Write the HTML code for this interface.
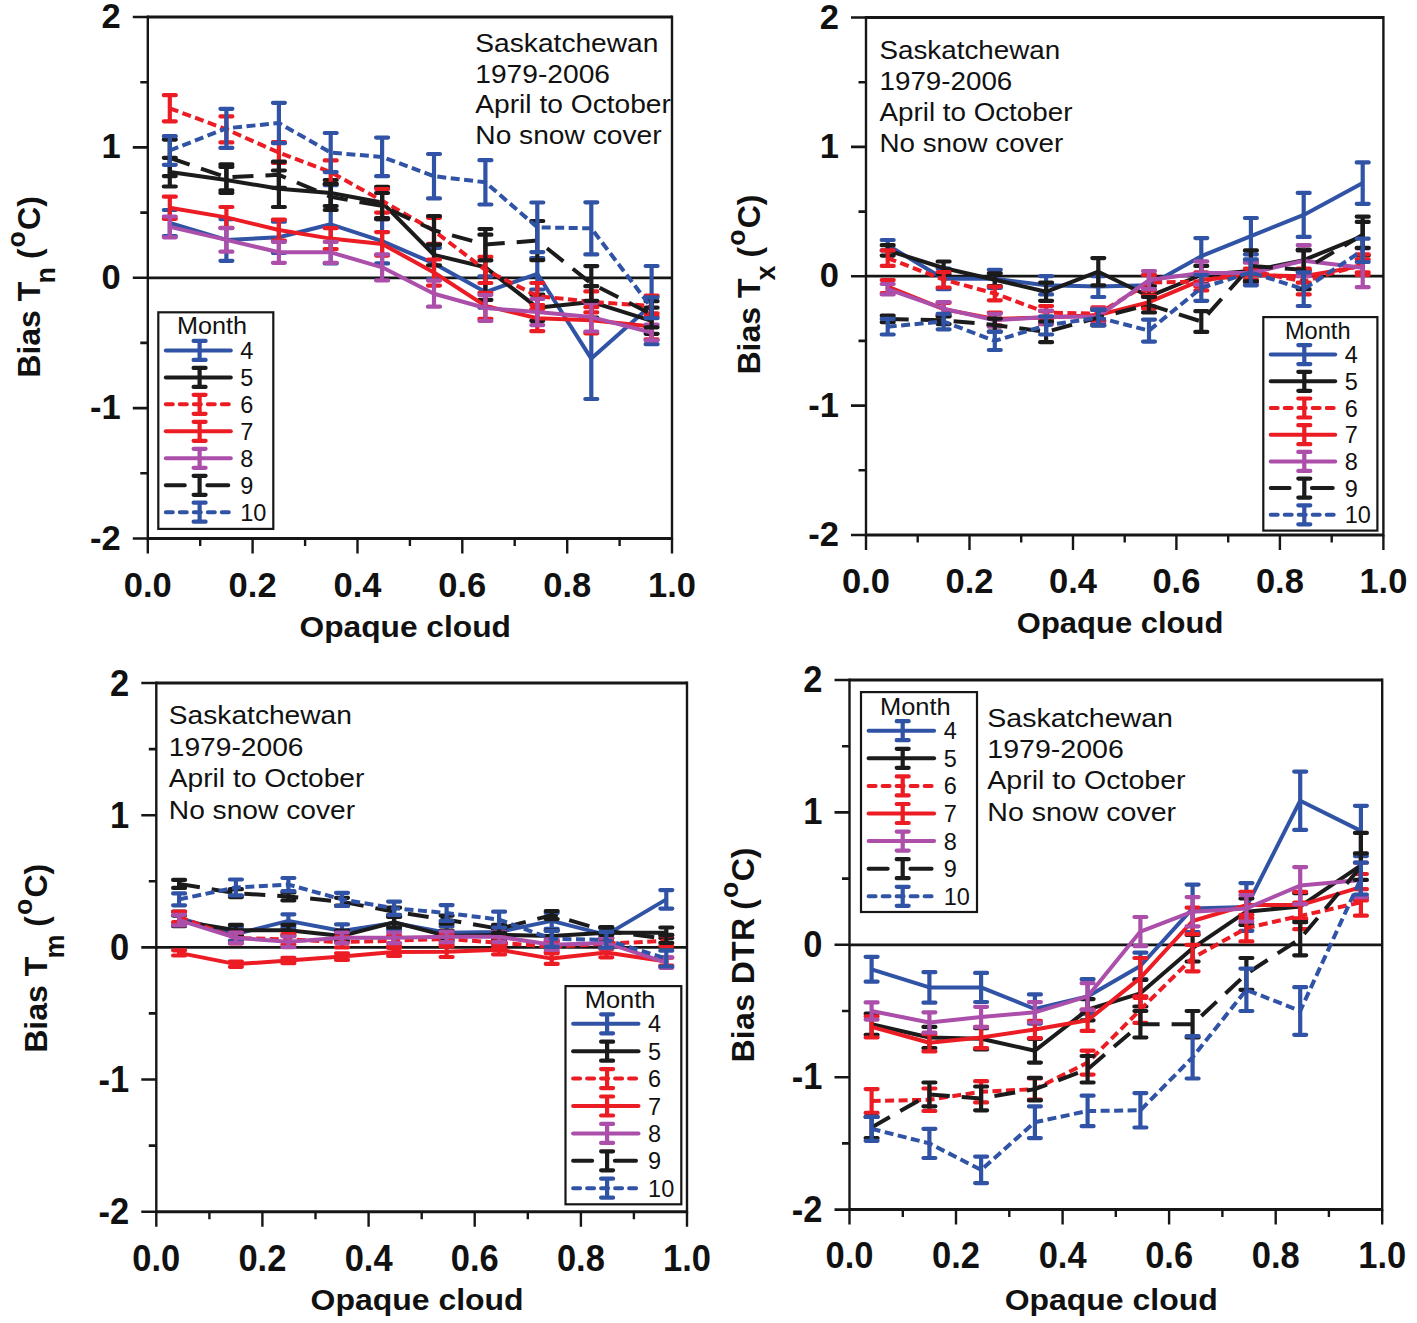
<!DOCTYPE html>
<html><head><meta charset="utf-8"><title>Bias vs opaque cloud</title>
<style>html,body{margin:0;padding:0;background:#fff;}svg{display:block;}</style></head>
<body><svg width="1417" height="1323" viewBox="0 0 1417 1323" font-family='"Liberation Sans", sans-serif' fill="#111">
<rect width="1417" height="1323" fill="#fff"/>
<path d="M147.8 17H672M147.8 538.5H672" stroke="#161616" stroke-width="3.0" fill="none"/>
<path d="M147.8 15.5V540M672 15.5V540" stroke="#161616" stroke-width="2.4" fill="none"/>
<path d="M132.8 17H147.8M132.8 147.4H147.8M132.8 277.8H147.8M132.8 408.1H147.8M132.8 538.5H147.8M140.3 82.2H147.8M140.3 212.6H147.8M140.3 342.9H147.8M140.3 473.3H147.8" stroke="#161616" stroke-width="2.6" fill="none"/>
<path d="M147.8 538.5V553.5M252.6 538.5V553.5M357.5 538.5V553.5M462.3 538.5V553.5M567.2 538.5V553.5M672 538.5V553.5M200.2 538.5V546M305.1 538.5V546M409.9 538.5V546M514.7 538.5V546M619.6 538.5V546" stroke="#161616" stroke-width="2.4" fill="none"/>
<path d="M147.8 277.8H672" stroke="#161616" stroke-width="2.8" fill="none"/>
<text transform="translate(120.8 28) scale(1 1.0)" text-anchor="end" font-size="34.5" font-weight="bold">2</text>
<text transform="translate(120.8 158.4) scale(1 1.0)" text-anchor="end" font-size="34.5" font-weight="bold">1</text>
<text transform="translate(120.8 288.8) scale(1 1.0)" text-anchor="end" font-size="34.5" font-weight="bold">0</text>
<text transform="translate(120.8 419.1) scale(1 1.0)" text-anchor="end" font-size="34.5" font-weight="bold">-1</text>
<text transform="translate(120.8 549.5) scale(1 1.0)" text-anchor="end" font-size="34.5" font-weight="bold">-2</text>
<text transform="translate(147.8 597) scale(1 1.0)" text-anchor="middle" font-size="34.5" font-weight="bold">0.0</text>
<text transform="translate(252.6 597) scale(1 1.0)" text-anchor="middle" font-size="34.5" font-weight="bold">0.2</text>
<text transform="translate(357.5 597) scale(1 1.0)" text-anchor="middle" font-size="34.5" font-weight="bold">0.4</text>
<text transform="translate(462.3 597) scale(1 1.0)" text-anchor="middle" font-size="34.5" font-weight="bold">0.6</text>
<text transform="translate(567.2 597) scale(1 1.0)" text-anchor="middle" font-size="34.5" font-weight="bold">0.8</text>
<text transform="translate(672 597) scale(1 1.0)" text-anchor="middle" font-size="34.5" font-weight="bold">1.0</text>
<text transform="translate(405.2 637) scale(1.057 1)" text-anchor="middle" font-size="30" font-weight="bold">Opaque cloud</text>
<text transform="translate(40 377.7) rotate(-90)" font-size="32" font-weight="bold">Bias T<tspan font-size="27" dx="-1.8" dy="14.5">n</tspan><tspan dx="-1" dy="-14.5"> (</tspan><tspan font-size="26.5" dx="1" dy="-15.5">o</tspan><tspan dx="1.3" dy="15.5">C)</tspan></text>
<text transform="translate(475.3 51.8) scale(1.1 1)" font-size="25.6">Saskatchewan</text>
<text transform="translate(475.3 82.6) scale(1.1 1)" font-size="25.6">1979-2006</text>
<text transform="translate(475.3 113.4) scale(1.1 1)" font-size="25.6">April to October</text>
<text transform="translate(475.3 144.2) scale(1.1 1)" font-size="25.6">No snow cover</text>
<polyline points="169.8,223 226.4,239.9 278.9,237.3 330.7,224.3 382.1,241.2 434,263.4 485.4,292.1 537.3,273.8 591.3,358.6 651.6,305.1" stroke="#3153a5" stroke-width="4.0" fill="none" stroke-linejoin="round"/>
<path d="M169.8 210V236M163.8 210H175.8M163.8 236H175.8M226.4 219.1V260.8M220.4 219.1H232.4M220.4 260.8H232.4M278.9 221.7V253M272.9 221.7H284.9M272.9 253H284.9M330.7 185.2V263.4M324.7 185.2H336.7M324.7 263.4H336.7M382.1 219.1V263.4M376.1 219.1H388.1M376.1 263.4H388.1M434 247.8V279.1M428 247.8H440M428 279.1H440M485.4 276.4V307.7M479.4 276.4H491.4M479.4 307.7H491.4M537.3 258.2V289.5M531.3 258.2H543.3M531.3 289.5H543.3M591.3 318.2V399M585.3 318.2H597.3M585.3 399H597.3M651.6 266V344.2M645.6 266H657.6M645.6 344.2H657.6" stroke="#3153a5" stroke-width="4.2" fill="none" stroke-linecap="round"/>
<polyline points="169.8,172.1 226.4,180 278.9,188.7 330.7,193 382.1,202.5 434,254.9 485.4,267.3 537.3,307.7 591.3,301.9 651.6,320.8" stroke="#1b1b1b" stroke-width="4.0" fill="none" stroke-linejoin="round"/>
<path d="M169.8 157.8V186.5M163.8 157.8H175.8M163.8 186.5H175.8M226.4 166.9V193M220.4 166.9H232.4M220.4 193H232.4M278.9 170.5V207M272.9 170.5H284.9M272.9 207H284.9M330.7 180V206M324.7 180H336.7M324.7 206H336.7M382.1 186.9V218.2M376.1 186.9H388.1M376.1 218.2H388.1M434 244.5V265.4M428 244.5H440M428 265.4H440M485.4 234.7V299.9M479.4 234.7H491.4M479.4 299.9H491.4M537.3 294.7V320.8M531.3 294.7H543.3M531.3 320.8H543.3M591.3 286.2V317.5M585.3 286.2H597.3M585.3 317.5H597.3M651.6 307.7V333.8M645.6 307.7H657.6M645.6 333.8H657.6" stroke="#1b1b1b" stroke-width="4.2" fill="none" stroke-linecap="round"/>
<polyline points="169.8,108.3 226.4,129.4 278.9,152.6 330.7,172.1 382.1,200.8 434,230.8 485.4,269.9 537.3,296 591.3,301.9 651.6,305.9" stroke="#ec1c24" stroke-width="4.0" fill="none" stroke-linejoin="round" stroke-dasharray="9 4.5"/>
<path d="M169.8 95.2V121.3M163.8 95.2H175.8M163.8 121.3H175.8M226.4 116.3V142.4M220.4 116.3H232.4M220.4 142.4H232.4M278.9 142.2V163M272.9 142.2H284.9M272.9 163H284.9M330.7 160.4V183.9M324.7 160.4H336.7M324.7 183.9H336.7M382.1 189.1V212.6M376.1 189.1H388.1M376.1 212.6H388.1M434 217.8V243.9M428 217.8H440M428 243.9H440M485.4 256.9V283M479.4 256.9H491.4M479.4 283H491.4M537.3 283V309M531.3 283H543.3M531.3 309H543.3M591.3 291.4V312.3M585.3 291.4H597.3M585.3 312.3H597.3M651.6 295.5V316.3M645.6 295.5H657.6M645.6 316.3H657.6" stroke="#ec1c24" stroke-width="4.2" fill="none" stroke-linecap="round"/>
<polyline points="169.8,207.7 226.4,217.4 278.9,230 330.7,238.6 382.1,243.9 434,272.5 485.4,305.9 537.3,318.2 591.3,320.3 651.6,326.4" stroke="#ec1c24" stroke-width="4.0" fill="none" stroke-linejoin="round"/>
<path d="M169.8 196.7V218.8M163.8 196.7H175.8M163.8 218.8H175.8M226.4 207V227.8M220.4 207H232.4M220.4 227.8H232.4M278.9 219.6V240.5M272.9 219.6H284.9M272.9 240.5H284.9M330.7 228.2V249.1M324.7 228.2H336.7M324.7 249.1H336.7M382.1 232.1V255.6M376.1 232.1H388.1M376.1 255.6H388.1M434 259.5V285.6M428 259.5H440M428 285.6H440M485.4 292.9V318.9M479.4 292.9H491.4M479.4 318.9H491.4M537.3 305.1V331.2M531.3 305.1H543.3M531.3 331.2H543.3M591.3 307.2V333.3M585.3 307.2H597.3M585.3 333.3H597.3M651.6 313.3V339.4M645.6 313.3H657.6M645.6 339.4H657.6" stroke="#ec1c24" stroke-width="4.2" fill="none" stroke-linecap="round"/>
<polyline points="169.8,226.9 226.4,239.9 278.9,252.3 330.7,252.3 382.1,267.3 434,293.7 485.4,308 537.3,312 591.3,317.1 651.6,332.5" stroke="#ab4fab" stroke-width="4.0" fill="none" stroke-linejoin="round"/>
<path d="M169.8 216.5V237.3M163.8 216.5H175.8M163.8 237.3H175.8M226.4 228.2V251.7M220.4 228.2H232.4M220.4 251.7H232.4M278.9 241.9V262.8M272.9 241.9H284.9M272.9 262.8H284.9M330.7 241.9V262.8M324.7 241.9H336.7M324.7 262.8H336.7M382.1 254.3V280.4M376.1 254.3H388.1M376.1 280.4H388.1M434 280.6V306.7M428 280.6H440M428 306.7H440M485.4 295V321M479.4 295H491.4M479.4 321H491.4M537.3 299V325.1M531.3 299H543.3M531.3 325.1H543.3M591.3 302.8V331.5M585.3 302.8H597.3M585.3 331.5H597.3M651.6 324.7V340.3M645.6 324.7H657.6M645.6 340.3H657.6" stroke="#ab4fab" stroke-width="4.2" fill="none" stroke-linecap="round"/>
<polyline points="169.8,157.8 226.4,177.4 278.9,174.8 330.7,196.9 382.1,206 434,230.3 485.4,244.6 537.3,240.6 591.3,283.5 651.6,314.3" stroke="#1b1b1b" stroke-width="4.0" fill="none" stroke-linejoin="round" stroke-dasharray="21 12"/>
<path d="M169.8 139.6V176.1M163.8 139.6H175.8M163.8 176.1H175.8M226.4 164.3V190.4M220.4 164.3H232.4M220.4 190.4H232.4M278.9 161.7V187.8M272.9 161.7H284.9M272.9 187.8H284.9M330.7 183.9V210M324.7 183.9H336.7M324.7 210H336.7M382.1 193V219.1M376.1 193H388.1M376.1 219.1H388.1M434 216V244.6M428 216H440M428 244.6H440M485.4 229V260.3M479.4 229H491.4M479.4 260.3H491.4M537.3 221V260.1M531.3 221H543.3M531.3 260.1H543.3M591.3 266.1V300.8M585.3 266.1H597.3M585.3 300.8H597.3M651.6 301.2V327.3M645.6 301.2H657.6M645.6 327.3H657.6" stroke="#1b1b1b" stroke-width="4.2" fill="none" stroke-linecap="round"/>
<polyline points="169.8,150.5 226.4,128.3 278.9,123 330.7,152.6 382.1,156.9 434,176.2 485.4,182.3 537.3,227.3 591.3,228.3 651.6,307.7" stroke="#3153a5" stroke-width="4.0" fill="none" stroke-linejoin="round" stroke-dasharray="9 4.5"/>
<path d="M169.8 136.2V164.8M163.8 136.2H175.8M163.8 164.8H175.8M226.4 108.8V147.9M220.4 108.8H232.4M220.4 147.9H232.4M278.9 102.8V143.2M272.9 102.8H284.9M272.9 143.2H284.9M330.7 133V172.1M324.7 133H336.7M324.7 172.1H336.7M382.1 137.6V176.2M376.1 137.6H388.1M376.1 176.2H388.1M434 154V198.4M428 154H440M428 198.4H440M485.4 160.2V204.5M479.4 160.2H491.4M479.4 204.5H491.4M537.3 202.5V252.1M531.3 202.5H543.3M531.3 252.1H543.3M591.3 202.3V254.4M585.3 202.3H597.3M585.3 254.4H597.3M651.6 297.3V318.2M645.6 297.3H657.6M645.6 318.2H657.6" stroke="#3153a5" stroke-width="4.2" fill="none" stroke-linecap="round"/>
<rect x="158.3" y="312.3" width="115" height="216.6" fill="#fff" stroke="#161616" stroke-width="2.2"/>
<text transform="translate(177.1 334.4) scale(1.05 1)" font-size="24">Month</text>
<path d="M165.8 350.4H230.8" stroke="#3153a5" stroke-width="4.0" stroke-linecap="round"/>
<path d="M199.6 340.9V359.9M193.6 340.9H205.6M193.6 359.9H205.6" stroke="#3153a5" stroke-width="4.2" stroke-linecap="round"/>
<text x="240.3" y="358.9" font-size="23.5">4</text>
<path d="M165.8 377.4H230.8" stroke="#1b1b1b" stroke-width="4.0" stroke-linecap="round"/>
<path d="M199.6 367.9V386.9M193.6 367.9H205.6M193.6 386.9H205.6" stroke="#1b1b1b" stroke-width="4.2" stroke-linecap="round"/>
<text x="240.3" y="385.9" font-size="23.5">5</text>
<path d="M165.8 404.3H230.8" stroke="#ec1c24" stroke-width="4.0" stroke-linecap="round" stroke-dasharray="7 7"/>
<path d="M199.6 394.8V413.8M193.6 394.8H205.6M193.6 413.8H205.6" stroke="#ec1c24" stroke-width="4.2" stroke-linecap="round"/>
<text x="240.3" y="412.8" font-size="23.5">6</text>
<path d="M165.8 431.3H230.8" stroke="#ec1c24" stroke-width="4.0" stroke-linecap="round"/>
<path d="M199.6 421.8V440.8M193.6 421.8H205.6M193.6 440.8H205.6" stroke="#ec1c24" stroke-width="4.2" stroke-linecap="round"/>
<text x="240.3" y="439.8" font-size="23.5">7</text>
<path d="M165.8 458.3H230.8" stroke="#ab4fab" stroke-width="4.0" stroke-linecap="round"/>
<path d="M199.6 448.8V467.8M193.6 448.8H205.6M193.6 467.8H205.6" stroke="#ab4fab" stroke-width="4.2" stroke-linecap="round"/>
<text x="240.3" y="466.8" font-size="23.5">8</text>
<path d="M165.8 485.2H184.8M207.3 485.2H228.3" stroke="#1b1b1b" stroke-width="4.0" stroke-linecap="round"/>
<path d="M199.6 475.8V494.8M193.6 475.8H205.6M193.6 494.8H205.6" stroke="#1b1b1b" stroke-width="4.2" stroke-linecap="round"/>
<text x="240.3" y="493.8" font-size="23.5">9</text>
<path d="M165.8 512.2H230.8" stroke="#3153a5" stroke-width="4.0" stroke-linecap="round" stroke-dasharray="7 7"/>
<path d="M199.6 502.7V521.7M193.6 502.7H205.6M193.6 521.7H205.6" stroke="#3153a5" stroke-width="4.2" stroke-linecap="round"/>
<text x="240.3" y="520.7" font-size="23.5">10</text>
<path d="M866 17.5H1383.4M866 535H1383.4" stroke="#161616" stroke-width="3.0" fill="none"/>
<path d="M866 16V536.5M1383.4 16V536.5" stroke="#161616" stroke-width="2.4" fill="none"/>
<path d="M851 17.5H866M851 146.9H866M851 276.2H866M851 405.6H866M851 535H866M858.5 82.2H866M858.5 211.6H866M858.5 340.9H866M858.5 470.3H866" stroke="#161616" stroke-width="2.6" fill="none"/>
<path d="M866 535V550M969.5 535V550M1073 535V550M1176.4 535V550M1279.9 535V550M1383.4 535V550M917.7 535V542.5M1021.2 535V542.5M1124.7 535V542.5M1228.2 535V542.5M1331.7 535V542.5" stroke="#161616" stroke-width="2.4" fill="none"/>
<path d="M866 276.2H1383.4" stroke="#161616" stroke-width="2.8" fill="none"/>
<text transform="translate(839 28.5) scale(1 1.0)" text-anchor="end" font-size="34.5" font-weight="bold">2</text>
<text transform="translate(839 157.9) scale(1 1.0)" text-anchor="end" font-size="34.5" font-weight="bold">1</text>
<text transform="translate(839 287.2) scale(1 1.0)" text-anchor="end" font-size="34.5" font-weight="bold">0</text>
<text transform="translate(839 416.6) scale(1 1.0)" text-anchor="end" font-size="34.5" font-weight="bold">-1</text>
<text transform="translate(839 546) scale(1 1.0)" text-anchor="end" font-size="34.5" font-weight="bold">-2</text>
<text transform="translate(866 592.5) scale(1 1.0)" text-anchor="middle" font-size="34.5" font-weight="bold">0.0</text>
<text transform="translate(969.5 592.5) scale(1 1.0)" text-anchor="middle" font-size="34.5" font-weight="bold">0.2</text>
<text transform="translate(1073 592.5) scale(1 1.0)" text-anchor="middle" font-size="34.5" font-weight="bold">0.4</text>
<text transform="translate(1176.4 592.5) scale(1 1.0)" text-anchor="middle" font-size="34.5" font-weight="bold">0.6</text>
<text transform="translate(1279.9 592.5) scale(1 1.0)" text-anchor="middle" font-size="34.5" font-weight="bold">0.8</text>
<text transform="translate(1383.4 592.5) scale(1 1.0)" text-anchor="middle" font-size="34.5" font-weight="bold">1.0</text>
<text transform="translate(1120.1 633) scale(1.033 1)" text-anchor="middle" font-size="30" font-weight="bold">Opaque cloud</text>
<text transform="translate(760 374.6) rotate(-90)" font-size="32" font-weight="bold">Bias T<tspan font-size="27" dx="-1.8" dy="14.5">x</tspan><tspan dx="-1" dy="-14.5"> (</tspan><tspan font-size="26.5" dx="1" dy="-15.5">o</tspan><tspan dx="1.3" dy="15.5">C)</tspan></text>
<text transform="translate(879.5 59.2) scale(1.085 1)" font-size="25.6">Saskatchewan</text>
<text transform="translate(879.5 90.1) scale(1.085 1)" font-size="25.6">1979-2006</text>
<text transform="translate(879.5 121) scale(1.085 1)" font-size="25.6">April to October</text>
<text transform="translate(879.5 151.9) scale(1.085 1)" font-size="25.6">No snow cover</text>
<polyline points="887.7,245.2 943.6,278.8 994.8,278.8 1046.1,285.3 1098.3,286.6 1149,285.3 1201.3,256.2 1250.9,236.1 1303.7,214.9 1362.7,183.1" stroke="#3153a5" stroke-width="4.0" fill="none" stroke-linejoin="round"/>
<path d="M887.7 240V250.4M881.7 240H893.7M881.7 250.4H893.7M943.6 268.5V289.2M937.6 268.5H949.6M937.6 289.2H949.6M994.8 269.8V287.9M988.8 269.8H1000.8M988.8 287.9H1000.8M1046.1 276.2V294.4M1040.1 276.2H1052.1M1040.1 294.4H1052.1M1098.3 276.2V297M1092.3 276.2H1104.3M1092.3 297H1104.3M1149 275V295.7M1143 275H1155M1143 295.7H1155M1201.3 238.1V274.3M1195.3 238.1H1207.3M1195.3 274.3H1207.3M1250.9 218V254.3M1244.9 218H1256.9M1244.9 254.3H1256.9M1303.7 192.9V236.9M1297.7 192.9H1309.7M1297.7 236.9H1309.7M1362.7 162.4V203.8M1356.7 162.4H1368.7M1356.7 203.8H1368.7" stroke="#3153a5" stroke-width="4.2" fill="none" stroke-linecap="round"/>
<polyline points="887.7,250.4 943.6,268 994.8,279.7 1046.1,291.8 1098.3,271.7 1149,296.3 1201.3,275 1250.9,271.1 1303.7,260.1 1362.7,236.1" stroke="#1b1b1b" stroke-width="4.0" fill="none" stroke-linejoin="round"/>
<path d="M887.7 245.2V255.6M881.7 245.2H893.7M881.7 255.6H893.7M943.6 261.5V274.4M937.6 261.5H949.6M937.6 274.4H949.6M994.8 273.3V286.2M988.8 273.3H1000.8M988.8 286.2H1000.8M1046.1 282.7V300.8M1040.1 282.7H1052.1M1040.1 300.8H1052.1M1098.3 258.1V285.3M1092.3 258.1H1104.3M1092.3 285.3H1104.3M1149 286V306.7M1143 286H1155M1143 306.7H1155M1201.3 265.9V284M1195.3 265.9H1207.3M1195.3 284H1207.3M1250.9 262V280.1M1244.9 262H1256.9M1244.9 280.1H1256.9M1303.7 249.7V270.4M1297.7 249.7H1309.7M1297.7 270.4H1309.7M1362.7 216.7V255.5M1356.7 216.7H1368.7M1356.7 255.5H1368.7" stroke="#1b1b1b" stroke-width="4.2" fill="none" stroke-linecap="round"/>
<polyline points="887.7,258.1 943.6,279.7 994.8,293.5 1046.1,312.5 1098.3,313.8 1149,282.7 1201.3,281.4 1250.9,271.1 1303.7,281.4 1362.7,264.6" stroke="#ec1c24" stroke-width="4.0" fill="none" stroke-linejoin="round" stroke-dasharray="9 4.5"/>
<path d="M887.7 250.4V265.9M881.7 250.4H893.7M881.7 265.9H893.7M943.6 272V287.5M937.6 272H949.6M937.6 287.5H949.6M994.8 286.6V300.3M988.8 286.6H1000.8M988.8 300.3H1000.8M1046.1 306V318.9M1040.1 306H1052.1M1040.1 318.9H1052.1M1098.3 307.3V320.2M1092.3 307.3H1104.3M1092.3 320.2H1104.3M1149 275V290.5M1143 275H1155M1143 290.5H1155M1201.3 272.4V290.5M1195.3 272.4H1207.3M1195.3 290.5H1207.3M1250.9 262V280.1M1244.9 262H1256.9M1244.9 280.1H1256.9M1303.7 268.5V294.4M1297.7 268.5H1309.7M1297.7 294.4H1309.7M1362.7 254.3V275M1356.7 254.3H1368.7M1356.7 275H1368.7" stroke="#ec1c24" stroke-width="4.2" fill="none" stroke-linecap="round"/>
<polyline points="887.7,286.6 943.6,309.2 994.8,318.9 1046.1,317.6 1098.3,315.1 1149,302.1 1201.3,280.1 1250.9,275 1303.7,276.2 1362.7,265.9" stroke="#ec1c24" stroke-width="4.0" fill="none" stroke-linejoin="round"/>
<path d="M887.7 280.1V293.1M881.7 280.1H893.7M881.7 293.1H893.7M943.6 302.8V315.7M937.6 302.8H949.6M937.6 315.7H949.6M994.8 312.5V325.4M988.8 312.5H1000.8M988.8 325.4H1000.8M1046.1 311.2V324.1M1040.1 311.2H1052.1M1040.1 324.1H1052.1M1098.3 308.6V321.5M1092.3 308.6H1104.3M1092.3 321.5H1104.3M1149 295.7V308.6M1143 295.7H1155M1143 308.6H1155M1201.3 273.7V286.6M1195.3 273.7H1207.3M1195.3 286.6H1207.3M1250.9 268.5V281.4M1244.9 268.5H1256.9M1244.9 281.4H1256.9M1303.7 269.8V282.7M1297.7 269.8H1309.7M1297.7 282.7H1309.7M1362.7 259.4V272.4M1356.7 259.4H1368.7M1356.7 272.4H1368.7" stroke="#ec1c24" stroke-width="4.2" fill="none" stroke-linecap="round"/>
<polyline points="887.7,289.2 943.6,308.6 994.8,320.2 1046.1,317.1 1098.3,316.4 1149,280.1 1201.3,273 1250.9,273 1303.7,260.7 1362.7,267.8" stroke="#ab4fab" stroke-width="4.0" fill="none" stroke-linejoin="round"/>
<path d="M887.7 284V294.4M881.7 284H893.7M881.7 294.4H893.7M943.6 302.1V315.1M937.6 302.1H949.6M937.6 315.1H949.6M994.8 313.8V326.7M988.8 313.8H1000.8M988.8 326.7H1000.8M1046.1 310.7V323.6M1040.1 310.7H1052.1M1040.1 323.6H1052.1M1098.3 308.6V324.1M1092.3 308.6H1104.3M1092.3 324.1H1104.3M1149 271.1V289.2M1143 271.1H1155M1143 289.2H1155M1201.3 261.4V284.7M1195.3 261.4H1207.3M1195.3 284.7H1207.3M1250.9 262.7V283.4M1244.9 262.7H1256.9M1244.9 283.4H1256.9M1303.7 245.2V276.2M1297.7 245.2H1309.7M1297.7 276.2H1309.7M1362.7 248.4V287.2M1356.7 248.4H1368.7M1356.7 287.2H1368.7" stroke="#ab4fab" stroke-width="4.2" fill="none" stroke-linecap="round"/>
<polyline points="887.7,318.9 943.6,320.2 994.8,325 1046.1,331.9 1098.3,317.6 1149,304.7 1201.3,321.5 1250.9,265.9 1303.7,269.8 1362.7,234.8" stroke="#1b1b1b" stroke-width="4.0" fill="none" stroke-linejoin="round" stroke-dasharray="21 12"/>
<path d="M887.7 315.7V322.2M881.7 315.7H893.7M881.7 322.2H893.7M943.6 316.4V324.1M937.6 316.4H949.6M937.6 324.1H949.6M994.8 318.6V331.5M988.8 318.6H1000.8M988.8 331.5H1000.8M1046.1 321.5V342.2M1040.1 321.5H1052.1M1040.1 342.2H1052.1M1098.3 309.9V325.4M1092.3 309.9H1104.3M1092.3 325.4H1104.3M1149 297V312.5M1143 297H1155M1143 312.5H1155M1201.3 311.2V331.9M1195.3 311.2H1207.3M1195.3 331.9H1207.3M1250.9 250.4V281.4M1244.9 250.4H1256.9M1244.9 281.4H1256.9M1303.7 250.4V289.2M1297.7 250.4H1309.7M1297.7 289.2H1309.7M1362.7 221.9V247.8M1356.7 221.9H1368.7M1356.7 247.8H1368.7" stroke="#1b1b1b" stroke-width="4.2" fill="none" stroke-linecap="round"/>
<polyline points="887.7,326.7 943.6,321.5 994.8,340.9 1046.1,325.4 1098.3,317.6 1149,330.6 1201.3,287.9 1250.9,272.4 1303.7,289.2 1362.7,250.4" stroke="#3153a5" stroke-width="4.0" fill="none" stroke-linejoin="round" stroke-dasharray="9 4.5"/>
<path d="M887.7 318.9V334.5M881.7 318.9H893.7M881.7 334.5H893.7M943.6 313.8V329.3M937.6 313.8H949.6M937.6 329.3H949.6M994.8 331.9V350M988.8 331.9H1000.8M988.8 350H1000.8M1046.1 316.4V334.5M1040.1 316.4H1052.1M1040.1 334.5H1052.1M1098.3 309.9V325.4M1092.3 309.9H1104.3M1092.3 325.4H1104.3M1149 319.6V341.6M1143 319.6H1155M1143 341.6H1155M1201.3 275V300.8M1195.3 275H1207.3M1195.3 300.8H1207.3M1250.9 259.4V285.3M1244.9 259.4H1256.9M1244.9 285.3H1256.9M1303.7 272.4V306M1297.7 272.4H1309.7M1297.7 306H1309.7M1362.7 238.7V262M1356.7 238.7H1368.7M1356.7 262H1368.7" stroke="#3153a5" stroke-width="4.2" fill="none" stroke-linecap="round"/>
<rect x="1263.3" y="317.1" width="114.1" height="213.5" fill="#fff" stroke="#161616" stroke-width="2.2"/>
<text transform="translate(1284.9 338.6) scale(0.985 1)" font-size="24">Month</text>
<path d="M1270.7 354.6H1335.2" stroke="#3153a5" stroke-width="4.0" stroke-linecap="round"/>
<path d="M1304.3 345.1V364.1M1298.3 345.1H1310.3M1298.3 364.1H1310.3" stroke="#3153a5" stroke-width="4.2" stroke-linecap="round"/>
<text x="1344.7" y="363.1" font-size="23.5">4</text>
<path d="M1270.7 381.3H1335.2" stroke="#1b1b1b" stroke-width="4.0" stroke-linecap="round"/>
<path d="M1304.3 371.8V390.8M1298.3 371.8H1310.3M1298.3 390.8H1310.3" stroke="#1b1b1b" stroke-width="4.2" stroke-linecap="round"/>
<text x="1344.7" y="389.8" font-size="23.5">5</text>
<path d="M1270.7 408H1335.2" stroke="#ec1c24" stroke-width="4.0" stroke-linecap="round" stroke-dasharray="7 7"/>
<path d="M1304.3 398.5V417.5M1298.3 398.5H1310.3M1298.3 417.5H1310.3" stroke="#ec1c24" stroke-width="4.2" stroke-linecap="round"/>
<text x="1344.7" y="416.5" font-size="23.5">6</text>
<path d="M1270.7 434.7H1335.2" stroke="#ec1c24" stroke-width="4.0" stroke-linecap="round"/>
<path d="M1304.3 425.2V444.2M1298.3 425.2H1310.3M1298.3 444.2H1310.3" stroke="#ec1c24" stroke-width="4.2" stroke-linecap="round"/>
<text x="1344.7" y="443.2" font-size="23.5">7</text>
<path d="M1270.7 461.4H1335.2" stroke="#ab4fab" stroke-width="4.0" stroke-linecap="round"/>
<path d="M1304.3 451.9V470.9M1298.3 451.9H1310.3M1298.3 470.9H1310.3" stroke="#ab4fab" stroke-width="4.2" stroke-linecap="round"/>
<text x="1344.7" y="469.9" font-size="23.5">8</text>
<path d="M1270.7 488.1H1289.6M1311.9 488.1H1332.8" stroke="#1b1b1b" stroke-width="4.0" stroke-linecap="round"/>
<path d="M1304.3 478.6V497.6M1298.3 478.6H1310.3M1298.3 497.6H1310.3" stroke="#1b1b1b" stroke-width="4.2" stroke-linecap="round"/>
<text x="1344.7" y="496.6" font-size="23.5">9</text>
<path d="M1270.7 514.8H1335.2" stroke="#3153a5" stroke-width="4.0" stroke-linecap="round" stroke-dasharray="7 7"/>
<path d="M1304.3 505.3V524.3M1298.3 505.3H1310.3M1298.3 524.3H1310.3" stroke="#3153a5" stroke-width="4.2" stroke-linecap="round"/>
<text x="1344.7" y="523.3" font-size="23.5">10</text>
<path d="M156.3 683H687M156.3 1211.7H687" stroke="#161616" stroke-width="3.0" fill="none"/>
<path d="M156.3 681.5V1213.2M687 681.5V1213.2" stroke="#161616" stroke-width="2.4" fill="none"/>
<path d="M141.3 683H156.3M141.3 815.2H156.3M141.3 947.4H156.3M141.3 1079.5H156.3M141.3 1211.7H156.3M148.8 749.1H156.3M148.8 881.3H156.3M148.8 1013.4H156.3M148.8 1145.6H156.3" stroke="#161616" stroke-width="2.6" fill="none"/>
<path d="M156.3 1211.7V1226.7M262.4 1211.7V1226.7M368.6 1211.7V1226.7M474.7 1211.7V1226.7M580.9 1211.7V1226.7M687 1211.7V1226.7M209.4 1211.7V1219.2M315.5 1211.7V1219.2M421.7 1211.7V1219.2M527.8 1211.7V1219.2M633.9 1211.7V1219.2" stroke="#161616" stroke-width="2.4" fill="none"/>
<path d="M156.3 947.4H687" stroke="#161616" stroke-width="2.8" fill="none"/>
<text transform="translate(129.3 695.5) scale(1 1.058)" text-anchor="end" font-size="34.5" font-weight="bold">2</text>
<text transform="translate(129.3 827.7) scale(1 1.058)" text-anchor="end" font-size="34.5" font-weight="bold">1</text>
<text transform="translate(129.3 959.9) scale(1 1.058)" text-anchor="end" font-size="34.5" font-weight="bold">0</text>
<text transform="translate(129.3 1092) scale(1 1.058)" text-anchor="end" font-size="34.5" font-weight="bold">-1</text>
<text transform="translate(129.3 1224.2) scale(1 1.058)" text-anchor="end" font-size="34.5" font-weight="bold">-2</text>
<text transform="translate(156.3 1271.2) scale(1 1.058)" text-anchor="middle" font-size="34.5" font-weight="bold">0.0</text>
<text transform="translate(262.4 1271.2) scale(1 1.058)" text-anchor="middle" font-size="34.5" font-weight="bold">0.2</text>
<text transform="translate(368.6 1271.2) scale(1 1.058)" text-anchor="middle" font-size="34.5" font-weight="bold">0.4</text>
<text transform="translate(474.7 1271.2) scale(1 1.058)" text-anchor="middle" font-size="34.5" font-weight="bold">0.6</text>
<text transform="translate(580.9 1271.2) scale(1 1.058)" text-anchor="middle" font-size="34.5" font-weight="bold">0.8</text>
<text transform="translate(687 1271.2) scale(1 1.058)" text-anchor="middle" font-size="34.5" font-weight="bold">1.0</text>
<text transform="translate(417.1 1310) scale(1.065 1)" text-anchor="middle" font-size="30" font-weight="bold">Opaque cloud</text>
<text transform="translate(47.4 1052.8) rotate(-90)" font-size="32" font-weight="bold">Bias T<tspan font-size="27" dx="-1.8" dy="16.5">m</tspan><tspan dx="-1" dy="-16.5"> (</tspan><tspan font-size="26.5" dx="1" dy="-15.5">o</tspan><tspan dx="1.3" dy="15.5">C)</tspan></text>
<text transform="translate(168.8 724) scale(1.1 1)" font-size="25.6">Saskatchewan</text>
<text transform="translate(168.8 755.5) scale(1.1 1)" font-size="25.6">1979-2006</text>
<text transform="translate(168.8 787) scale(1.1 1)" font-size="25.6">April to October</text>
<text transform="translate(168.8 818.5) scale(1.1 1)" font-size="25.6">No snow cover</text>
<polyline points="179.1,918.3 235.9,934.1 288.4,920.9 342,931 394.1,923 446.6,932.8 499.1,931.9 551.7,920.9 606.3,934.9 666.3,899.4" stroke="#3153a5" stroke-width="4.0" fill="none" stroke-linejoin="round"/>
<path d="M179.1 911.7V924.9M173.1 911.7H185.1M173.1 924.9H185.1M235.9 927.5V940.7M229.9 927.5H241.9M229.9 940.7H241.9M288.4 914.3V927.5M282.4 914.3H294.4M282.4 927.5H294.4M342 924.4V937.6M336 924.4H348M336 937.6H348M394.1 916.4V929.6M388.1 916.4H400.1M388.1 929.6H400.1M446.6 926.2V939.4M440.6 926.2H452.6M440.6 939.4H452.6M499.1 925.3V938.5M493.1 925.3H505.1M493.1 938.5H505.1M551.7 913V928.8M545.7 913H557.7M545.7 928.8H557.7M606.3 928.3V941.5M600.3 928.3H612.3M600.3 941.5H612.3M666.3 890.1V908.6M660.3 890.1H672.3M660.3 908.6H672.3" stroke="#3153a5" stroke-width="4.2" fill="none" stroke-linecap="round"/>
<polyline points="179.1,920.9 235.9,930.2 288.4,930.2 342,935.9 394.1,922.2 446.6,935.9 499.1,934.9 551.7,935.9 606.3,932.8 666.3,932.8" stroke="#1b1b1b" stroke-width="4.0" fill="none" stroke-linejoin="round"/>
<path d="M179.1 915.6V926.2M173.1 915.6H185.1M173.1 926.2H185.1M235.9 924.9V935.5M229.9 924.9H241.9M229.9 935.5H241.9M288.4 924.9V935.5M282.4 924.9H294.4M282.4 935.5H294.4M342 930.6V941.1M336 930.6H348M336 941.1H348M394.1 916.9V927.5M388.1 916.9H400.1M388.1 927.5H400.1M446.6 930.6V941.1M440.6 930.6H452.6M440.6 941.1H452.6M499.1 929.6V940.2M493.1 929.6H505.1M493.1 940.2H505.1M551.7 930.6V941.1M545.7 930.6H557.7M545.7 941.1H557.7M606.3 927.5V938.1M600.3 927.5H612.3M600.3 938.1H612.3M666.3 927.5V938.1M660.3 927.5H672.3M660.3 938.1H672.3" stroke="#1b1b1b" stroke-width="4.2" fill="none" stroke-linecap="round"/>
<polyline points="179.1,916.9 235.9,938.1 288.4,939.4 342,942.1 394.1,940.7 446.6,938.9 499.1,942.9 551.7,946.7 606.3,943.8 666.3,940.7" stroke="#ec1c24" stroke-width="4.0" fill="none" stroke-linejoin="round" stroke-dasharray="9 4.5"/>
<path d="M179.1 911.7V922.2M173.1 911.7H185.1M173.1 922.2H185.1M235.9 932.8V943.4M229.9 932.8H241.9M229.9 943.4H241.9M288.4 934.1V944.7M282.4 934.1H294.4M282.4 944.7H294.4M342 936.8V947.4M336 936.8H348M336 947.4H348M394.1 935.5V946M388.1 935.5H400.1M388.1 946H400.1M446.6 933.6V944.2M440.6 933.6H452.6M440.6 944.2H452.6M499.1 937.6V948.1M493.1 937.6H505.1M493.1 948.1H505.1M551.7 941.4V952M545.7 941.4H557.7M545.7 952H557.7M606.3 938.5V949.1M600.3 938.5H612.3M600.3 949.1H612.3M666.3 935.5V946M660.3 935.5H672.3M660.3 946H672.3" stroke="#ec1c24" stroke-width="4.2" fill="none" stroke-linecap="round"/>
<polyline points="179.1,952.9 235.9,964.1 288.4,960.6 342,956.6 394.1,952 446.6,951.7 499.1,949.7 551.7,958.6 606.3,952.6 666.3,961.6" stroke="#ec1c24" stroke-width="4.0" fill="none" stroke-linejoin="round"/>
<path d="M179.1 950.3V955.5M173.1 950.3H185.1M173.1 955.5H185.1M235.9 961.5V966.8M229.9 961.5H241.9M229.9 966.8H241.9M288.4 957.9V963.2M282.4 957.9H294.4M282.4 963.2H294.4M342 953.3V959.9M336 953.3H348M336 959.9H348M394.1 948V955.9M388.1 948H400.1M388.1 955.9H400.1M446.6 946.4V957M440.6 946.4H452.6M440.6 957H452.6M499.1 945.1V954.4M493.1 945.1H505.1M493.1 954.4H505.1M551.7 953.3V963.9M545.7 953.3H557.7M545.7 963.9H557.7M606.3 948V957.3M600.3 948H612.3M600.3 957.3H612.3M666.3 957.7V965.6M660.3 957.7H672.3M660.3 965.6H672.3" stroke="#ec1c24" stroke-width="4.2" fill="none" stroke-linecap="round"/>
<polyline points="179.1,920.1 235.9,937.8 288.4,941.8 342,937.8 394.1,937.8 446.6,936.8 499.1,936.8 551.7,944.7 606.3,942.9 666.3,962.6" stroke="#ab4fab" stroke-width="4.0" fill="none" stroke-linejoin="round"/>
<path d="M179.1 914.8V925.4M173.1 914.8H185.1M173.1 925.4H185.1M235.9 932.5V943.1M229.9 932.5H241.9M229.9 943.1H241.9M288.4 936.5V947.1M282.4 936.5H294.4M282.4 947.1H294.4M342 932.5V943.1M336 932.5H348M336 943.1H348M394.1 932.5V943.1M388.1 932.5H400.1M388.1 943.1H400.1M446.6 931.5V942.1M440.6 931.5H452.6M440.6 942.1H452.6M499.1 931.5V942.1M493.1 931.5H505.1M493.1 942.1H505.1M551.7 939.4V950M545.7 939.4H557.7M545.7 950H557.7M606.3 937.6V948.1M600.3 937.6H612.3M600.3 948.1H612.3M666.3 957.3V967.8M660.3 957.3H672.3M660.3 967.8H672.3" stroke="#ab4fab" stroke-width="4.2" fill="none" stroke-linecap="round"/>
<polyline points="179.1,883.9 235.9,893.2 288.4,896.5 342,901.7 394.1,911.7 446.6,919.6 499.1,928.8 551.7,915.1 606.3,931 666.3,938.9" stroke="#1b1b1b" stroke-width="4.0" fill="none" stroke-linejoin="round" stroke-dasharray="21 12"/>
<path d="M179.1 879.9V887.9M173.1 879.9H185.1M173.1 887.9H185.1M235.9 889.2V897.1M229.9 889.2H241.9M229.9 897.1H241.9M288.4 892.5V900.4M282.4 892.5H294.4M282.4 900.4H294.4M342 897.8V905.7M336 897.8H348M336 905.7H348M394.1 907.7V915.6M388.1 907.7H400.1M388.1 915.6H400.1M446.6 915.6V923.6M440.6 915.6H452.6M440.6 923.6H452.6M499.1 924.9V932.8M493.1 924.9H505.1M493.1 932.8H505.1M551.7 911.1V919.1M545.7 911.1H557.7M545.7 919.1H557.7M606.3 927V934.9M600.3 927H612.3M600.3 934.9H612.3M666.3 934.9V942.9M660.3 934.9H672.3M660.3 942.9H672.3" stroke="#1b1b1b" stroke-width="4.2" fill="none" stroke-linecap="round"/>
<polyline points="179.1,899.4 235.9,887.5 288.4,884.6 342,899.4 394.1,908.2 446.6,913 499.1,919.6 551.7,938.9 606.3,939.8 666.3,958.6" stroke="#3153a5" stroke-width="4.0" fill="none" stroke-linejoin="round" stroke-dasharray="9 4.5"/>
<path d="M179.1 893.4V905.3M173.1 893.4H185.1M173.1 905.3H185.1M235.9 879.5V895.4M229.9 879.5H241.9M229.9 895.4H241.9M288.4 878V891.2M282.4 878H294.4M282.4 891.2H294.4M342 892.8V906M336 892.8H348M336 906H348M394.1 901.6V914.8M388.1 901.6H400.1M388.1 914.8H400.1M446.6 905.1V920.9M440.6 905.1H452.6M440.6 920.9H452.6M499.1 911.7V927.5M493.1 911.7H505.1M493.1 927.5H505.1M551.7 931V946.8M545.7 931H557.7M545.7 946.8H557.7M606.3 931.9V947.7M600.3 931.9H612.3M600.3 947.7H612.3M666.3 950.7V966.5M660.3 950.7H672.3M660.3 966.5H672.3" stroke="#3153a5" stroke-width="4.2" fill="none" stroke-linecap="round"/>
<rect x="565.5" y="986.1" width="115.8" height="218.2" fill="#fff" stroke="#161616" stroke-width="2.2"/>
<text transform="translate(584.8 1007.8) scale(1.06 1)" font-size="24">Month</text>
<path d="M573.1 1023.8H638.5" stroke="#3153a5" stroke-width="4.0" stroke-linecap="round"/>
<path d="M607.1 1014.3V1033.3M601.1 1014.3H613.1M601.1 1033.3H613.1" stroke="#3153a5" stroke-width="4.2" stroke-linecap="round"/>
<text x="648.1" y="1032.3" font-size="23.5">4</text>
<path d="M573.1 1051.2H638.5" stroke="#1b1b1b" stroke-width="4.0" stroke-linecap="round"/>
<path d="M607.1 1041.7V1060.7M601.1 1041.7H613.1M601.1 1060.7H613.1" stroke="#1b1b1b" stroke-width="4.2" stroke-linecap="round"/>
<text x="648.1" y="1059.7" font-size="23.5">5</text>
<path d="M573.1 1078.6H638.5" stroke="#ec1c24" stroke-width="4.0" stroke-linecap="round" stroke-dasharray="7 7"/>
<path d="M607.1 1069.1V1088.1M601.1 1069.1H613.1M601.1 1088.1H613.1" stroke="#ec1c24" stroke-width="4.2" stroke-linecap="round"/>
<text x="648.1" y="1087.1" font-size="23.5">6</text>
<path d="M573.1 1106H638.5" stroke="#ec1c24" stroke-width="4.0" stroke-linecap="round"/>
<path d="M607.1 1096.5V1115.5M601.1 1096.5H613.1M601.1 1115.5H613.1" stroke="#ec1c24" stroke-width="4.2" stroke-linecap="round"/>
<text x="648.1" y="1114.5" font-size="23.5">7</text>
<path d="M573.1 1133.4H638.5" stroke="#ab4fab" stroke-width="4.0" stroke-linecap="round"/>
<path d="M607.1 1123.9V1142.9M601.1 1123.9H613.1M601.1 1142.9H613.1" stroke="#ab4fab" stroke-width="4.2" stroke-linecap="round"/>
<text x="648.1" y="1141.9" font-size="23.5">8</text>
<path d="M573.1 1160.8H592.2M614.8 1160.8H636" stroke="#1b1b1b" stroke-width="4.0" stroke-linecap="round"/>
<path d="M607.1 1151.3V1170.3M601.1 1151.3H613.1M601.1 1170.3H613.1" stroke="#1b1b1b" stroke-width="4.2" stroke-linecap="round"/>
<text x="648.1" y="1169.3" font-size="23.5">9</text>
<path d="M573.1 1188.2H638.5" stroke="#3153a5" stroke-width="4.0" stroke-linecap="round" stroke-dasharray="7 7"/>
<path d="M607.1 1178.7V1197.7M601.1 1178.7H613.1M601.1 1197.7H613.1" stroke="#3153a5" stroke-width="4.2" stroke-linecap="round"/>
<text x="648.1" y="1196.7" font-size="23.5">10</text>
<path d="M849.5 680H1382.2M849.5 1209.6H1382.2" stroke="#161616" stroke-width="3.0" fill="none"/>
<path d="M849.5 678.5V1211.1M1382.2 678.5V1211.1" stroke="#161616" stroke-width="2.4" fill="none"/>
<path d="M834.5 680H849.5M834.5 812.4H849.5M834.5 944.8H849.5M834.5 1077.2H849.5M834.5 1209.6H849.5M842 746.2H849.5M842 878.6H849.5M842 1011H849.5M842 1143.4H849.5" stroke="#161616" stroke-width="2.6" fill="none"/>
<path d="M849.5 1209.6V1224.6M956 1209.6V1224.6M1062.6 1209.6V1224.6M1169.1 1209.6V1224.6M1275.7 1209.6V1224.6M1382.2 1209.6V1224.6M902.8 1209.6V1217.1M1009.3 1209.6V1217.1M1115.8 1209.6V1217.1M1222.4 1209.6V1217.1M1328.9 1209.6V1217.1" stroke="#161616" stroke-width="2.4" fill="none"/>
<path d="M849.5 944.8H1382.2" stroke="#161616" stroke-width="2.8" fill="none"/>
<text transform="translate(822.5 692) scale(1 1.058)" text-anchor="end" font-size="34.5" font-weight="bold">2</text>
<text transform="translate(822.5 824.4) scale(1 1.058)" text-anchor="end" font-size="34.5" font-weight="bold">1</text>
<text transform="translate(822.5 956.8) scale(1 1.058)" text-anchor="end" font-size="34.5" font-weight="bold">0</text>
<text transform="translate(822.5 1089.2) scale(1 1.058)" text-anchor="end" font-size="34.5" font-weight="bold">-1</text>
<text transform="translate(822.5 1221.6) scale(1 1.058)" text-anchor="end" font-size="34.5" font-weight="bold">-2</text>
<text transform="translate(849.5 1268.1) scale(1 1.058)" text-anchor="middle" font-size="34.5" font-weight="bold">0.0</text>
<text transform="translate(956 1268.1) scale(1 1.058)" text-anchor="middle" font-size="34.5" font-weight="bold">0.2</text>
<text transform="translate(1062.6 1268.1) scale(1 1.058)" text-anchor="middle" font-size="34.5" font-weight="bold">0.4</text>
<text transform="translate(1169.1 1268.1) scale(1 1.058)" text-anchor="middle" font-size="34.5" font-weight="bold">0.6</text>
<text transform="translate(1275.7 1268.1) scale(1 1.058)" text-anchor="middle" font-size="34.5" font-weight="bold">0.8</text>
<text transform="translate(1382.2 1268.1) scale(1 1.058)" text-anchor="middle" font-size="34.5" font-weight="bold">1.0</text>
<text transform="translate(1111.2 1310) scale(1.065 1)" text-anchor="middle" font-size="30" font-weight="bold">Opaque cloud</text>
<text transform="translate(753.5 1062.6) rotate(-90)" font-size="32" font-weight="bold"><tspan letter-spacing="0.35">Bias DTR</tspan> <tspan dx="-1">(</tspan><tspan font-size="26.5" dx="1" dy="-15.5">o</tspan><tspan dx="0.5" dy="15.5">C)</tspan></text>
<text transform="translate(987.3 726.5) scale(1.115 1)" font-size="25.6">Saskatchewan</text>
<text transform="translate(987.3 757.9) scale(1.115 1)" font-size="25.6">1979-2006</text>
<text transform="translate(987.3 789.3) scale(1.115 1)" font-size="25.6">April to October</text>
<text transform="translate(987.3 820.7) scale(1.115 1)" font-size="25.6">No snow cover</text>
<polyline points="871.6,969.3 929.4,987.4 981.1,987.4 1034.9,1009 1087.6,996.4 1140.4,966 1192.6,908.4 1246.4,906.9 1300.2,800.7 1360.9,830.9" stroke="#3153a5" stroke-width="4.0" fill="none" stroke-linejoin="round"/>
<path d="M871.6 956.8V981.7M865.6 956.8H877.6M865.6 981.7H877.6M929.4 972.2V1002.7M923.4 972.2H935.4M923.4 1002.7H935.4M981.1 972.9V1002M975.1 972.9H987.1M975.1 1002H987.1M1034.9 994.4V1023.6M1028.9 994.4H1040.9M1028.9 1023.6H1040.9M1087.6 979.2V1013.6M1081.6 979.2H1093.6M1081.6 1013.6H1093.6M1140.4 952.7V979.2M1134.4 952.7H1146.4M1134.4 979.2H1146.4M1192.6 884.6V932.2M1186.6 884.6H1198.6M1186.6 932.2H1198.6M1246.4 883.1V930.8M1240.4 883.1H1252.4M1240.4 930.8H1252.4M1300.2 771.6V829.9M1294.2 771.6H1306.2M1294.2 829.9H1306.2M1360.9 805.8V856.1M1354.9 805.8H1366.9M1354.9 856.1H1366.9" stroke="#3153a5" stroke-width="4.2" fill="none" stroke-linecap="round"/>
<polyline points="871.6,1024.2 929.4,1037.5 981.1,1038.8 1034.9,1050.7 1087.6,1009.7 1140.4,993.3 1192.6,948.2 1246.4,911.7 1300.2,906.4 1360.9,865.4" stroke="#1b1b1b" stroke-width="4.0" fill="none" stroke-linejoin="round"/>
<path d="M871.6 1013.6V1034.8M865.6 1013.6H877.6M865.6 1034.8H877.6M929.4 1026.9V1048.1M923.4 1026.9H935.4M923.4 1048.1H935.4M981.1 1028.2V1049.4M975.1 1028.2H987.1M975.1 1049.4H987.1M1034.9 1038.8V1062.6M1028.9 1038.8H1040.9M1028.9 1062.6H1040.9M1087.6 999.1V1020.3M1081.6 999.1H1093.6M1081.6 1020.3H1093.6M1140.4 980V1006.5M1134.4 980H1146.4M1134.4 1006.5H1146.4M1192.6 935V961.5M1186.6 935H1198.6M1186.6 961.5H1198.6M1246.4 898.5V924.9M1240.4 898.5H1252.4M1240.4 924.9H1252.4M1300.2 893.2V919.6M1294.2 893.2H1306.2M1294.2 919.6H1306.2M1360.9 832.9V897.8M1354.9 832.9H1366.9M1354.9 897.8H1366.9" stroke="#1b1b1b" stroke-width="4.2" fill="none" stroke-linecap="round"/>
<polyline points="871.6,1101 929.4,1099.7 981.1,1091.8 1034.9,1089.1 1087.6,1062.6 1140.4,1009.7 1192.6,958 1246.4,928.1 1300.2,915.9 1360.9,902.4" stroke="#ec1c24" stroke-width="4.0" fill="none" stroke-linejoin="round" stroke-dasharray="9 4.5"/>
<path d="M871.6 1089.1V1112.9M865.6 1089.1H877.6M865.6 1112.9H877.6M929.4 1088.5V1111M923.4 1088.5H935.4M923.4 1111H935.4M981.1 1081.2V1102.4M975.1 1081.2H987.1M975.1 1102.4H987.1M1034.9 1078.5V1099.7M1028.9 1078.5H1040.9M1028.9 1099.7H1040.9M1087.6 1050.7V1074.6M1081.6 1050.7H1093.6M1081.6 1074.6H1093.6M1140.4 996.4V1022.9M1134.4 996.4H1146.4M1134.4 1022.9H1146.4M1192.6 944.8V971.3M1186.6 944.8H1198.6M1186.6 971.3H1198.6M1246.4 914.9V941.4M1240.4 914.9H1252.4M1240.4 941.4H1252.4M1300.2 902.7V929.2M1294.2 902.7H1306.2M1294.2 929.2H1306.2M1360.9 889.2V915.7M1354.9 889.2H1366.9M1354.9 915.7H1366.9" stroke="#ec1c24" stroke-width="4.2" fill="none" stroke-linecap="round"/>
<polyline points="871.6,1026.9 929.4,1042.8 981.1,1037.5 1034.9,1029.5 1087.6,1020.3 1140.4,977.9 1192.6,921 1246.4,905.1 1300.2,905.1 1360.9,887.2" stroke="#ec1c24" stroke-width="4.0" fill="none" stroke-linejoin="round"/>
<path d="M871.6 1016.3V1037.5M865.6 1016.3H877.6M865.6 1037.5H877.6M929.4 1034.2V1051.4M923.4 1034.2H935.4M923.4 1051.4H935.4M981.1 1026.9V1048.1M975.1 1026.9H987.1M975.1 1048.1H987.1M1034.9 1020.9V1038.1M1028.9 1020.9H1040.9M1028.9 1038.1H1040.9M1087.6 1009.7V1030.9M1081.6 1009.7H1093.6M1081.6 1030.9H1093.6M1140.4 958V997.8M1134.4 958H1146.4M1134.4 997.8H1146.4M1192.6 907.7V934.2M1186.6 907.7H1198.6M1186.6 934.2H1198.6M1246.4 891.8V918.3M1240.4 891.8H1252.4M1240.4 918.3H1252.4M1300.2 891.8V918.3M1294.2 891.8H1306.2M1294.2 918.3H1306.2M1360.9 874V900.4M1354.9 874H1366.9M1354.9 900.4H1366.9" stroke="#ec1c24" stroke-width="4.2" fill="none" stroke-linecap="round"/>
<polyline points="871.6,1011 929.4,1022.5 981.1,1017 1034.9,1012.3 1087.6,996.4 1140.4,931.6 1192.6,911.7 1246.4,908.4 1300.2,885.6 1360.9,879.9" stroke="#ab4fab" stroke-width="4.0" fill="none" stroke-linejoin="round"/>
<path d="M871.6 1002.4V1019.6M865.6 1002.4H877.6M865.6 1019.6H877.6M929.4 1012.3V1032.7M923.4 1012.3H935.4M923.4 1032.7H935.4M981.1 1006.8V1027.2M975.1 1006.8H987.1M975.1 1027.2H987.1M1034.9 1002.1V1022.5M1028.9 1002.1H1040.9M1028.9 1022.5H1040.9M1087.6 983.2V1009.7M1081.6 983.2H1093.6M1081.6 1009.7H1093.6M1140.4 917V946.1M1134.4 917H1146.4M1134.4 946.1H1146.4M1192.6 897.1V926.3M1186.6 897.1H1198.6M1186.6 926.3H1198.6M1246.4 895.1V921.6M1240.4 895.1H1252.4M1240.4 921.6H1252.4M1300.2 867.1V904.2M1294.2 867.1H1306.2M1294.2 904.2H1306.2M1360.9 862.7V897.1M1354.9 862.7H1366.9M1354.9 897.1H1366.9" stroke="#ab4fab" stroke-width="4.2" fill="none" stroke-linecap="round"/>
<polyline points="871.6,1127.5 929.4,1094.4 981.1,1098.4 1034.9,1089.1 1087.6,1069.3 1140.4,1024.2 1192.6,1024.2 1246.4,973.9 1300.2,938.7 1360.9,866.7" stroke="#1b1b1b" stroke-width="4.0" fill="none" stroke-linejoin="round" stroke-dasharray="21 12"/>
<path d="M871.6 1116.9V1138.1M865.6 1116.9H877.6M865.6 1138.1H877.6M929.4 1082.5V1106.3M923.4 1082.5H935.4M923.4 1106.3H935.4M981.1 1086.5V1110.3M975.1 1086.5H987.1M975.1 1110.3H987.1M1034.9 1077.9V1100.4M1028.9 1077.9H1040.9M1028.9 1100.4H1040.9M1087.6 1056V1082.5M1081.6 1056H1093.6M1081.6 1082.5H1093.6M1140.4 1011V1037.5M1134.4 1011H1146.4M1134.4 1037.5H1146.4M1192.6 1011V1037.5M1186.6 1011H1198.6M1186.6 1037.5H1198.6M1246.4 958V989.8M1240.4 958H1252.4M1240.4 989.8H1252.4M1300.2 922.2V955.3M1294.2 922.2H1306.2M1294.2 955.3H1306.2M1360.9 853.4V879.9M1354.9 853.4H1366.9M1354.9 879.9H1366.9" stroke="#1b1b1b" stroke-width="4.2" fill="none" stroke-linecap="round"/>
<polyline points="871.6,1128.8 929.4,1143.4 981.1,1169.9 1034.9,1122.2 1087.6,1111 1140.4,1110.3 1192.6,1057.3 1246.4,989.8 1300.2,1011 1360.9,878.6" stroke="#3153a5" stroke-width="4.0" fill="none" stroke-linejoin="round" stroke-dasharray="9 4.5"/>
<path d="M871.6 1116.9V1140.8M865.6 1116.9H877.6M865.6 1140.8H877.6M929.4 1128.8V1158M923.4 1128.8H935.4M923.4 1158H935.4M981.1 1156.6V1183.1M975.1 1156.6H987.1M975.1 1183.1H987.1M1034.9 1106.3V1138.1M1028.9 1106.3H1040.9M1028.9 1138.1H1040.9M1087.6 1095.7V1126.2M1081.6 1095.7H1093.6M1081.6 1126.2H1093.6M1140.4 1093.1V1127.5M1134.4 1093.1H1146.4M1134.4 1127.5H1146.4M1192.6 1036.2V1078.5M1186.6 1036.2H1198.6M1186.6 1078.5H1198.6M1246.4 968.6V1011M1240.4 968.6H1252.4M1240.4 1011H1252.4M1300.2 987.2V1034.8M1294.2 987.2H1306.2M1294.2 1034.8H1306.2M1360.9 862.7V894.5M1354.9 862.7H1366.9M1354.9 894.5H1366.9" stroke="#3153a5" stroke-width="4.2" fill="none" stroke-linecap="round"/>
<rect x="861" y="692.1" width="116" height="219.9" fill="#fff" stroke="#161616" stroke-width="2.2"/>
<text transform="translate(880 714.7) scale(1.06 1)" font-size="24">Month</text>
<path d="M868.6 730.7H934.1" stroke="#3153a5" stroke-width="4.0" stroke-linecap="round"/>
<path d="M902.7 721.2V740.2M896.7 721.2H908.7M896.7 740.2H908.7" stroke="#3153a5" stroke-width="4.2" stroke-linecap="round"/>
<text x="943.7" y="739.2" font-size="23.5">4</text>
<path d="M868.6 758.3H934.1" stroke="#1b1b1b" stroke-width="4.0" stroke-linecap="round"/>
<path d="M902.7 748.8V767.8M896.7 748.8H908.7M896.7 767.8H908.7" stroke="#1b1b1b" stroke-width="4.2" stroke-linecap="round"/>
<text x="943.7" y="766.8" font-size="23.5">5</text>
<path d="M868.6 785.9H934.1" stroke="#ec1c24" stroke-width="4.0" stroke-linecap="round" stroke-dasharray="7 7"/>
<path d="M902.7 776.4V795.4M896.7 776.4H908.7M896.7 795.4H908.7" stroke="#ec1c24" stroke-width="4.2" stroke-linecap="round"/>
<text x="943.7" y="794.4" font-size="23.5">6</text>
<path d="M868.6 813.5H934.1" stroke="#ec1c24" stroke-width="4.0" stroke-linecap="round"/>
<path d="M902.7 804V823M896.7 804H908.7M896.7 823H908.7" stroke="#ec1c24" stroke-width="4.2" stroke-linecap="round"/>
<text x="943.7" y="822" font-size="23.5">7</text>
<path d="M868.6 841.1H934.1" stroke="#ab4fab" stroke-width="4.0" stroke-linecap="round"/>
<path d="M902.7 831.6V850.6M896.7 831.6H908.7M896.7 850.6H908.7" stroke="#ab4fab" stroke-width="4.2" stroke-linecap="round"/>
<text x="943.7" y="849.6" font-size="23.5">8</text>
<path d="M868.6 868.7H887.7M910.4 868.7H931.6" stroke="#1b1b1b" stroke-width="4.0" stroke-linecap="round"/>
<path d="M902.7 859.2V878.2M896.7 859.2H908.7M896.7 878.2H908.7" stroke="#1b1b1b" stroke-width="4.2" stroke-linecap="round"/>
<text x="943.7" y="877.2" font-size="23.5">9</text>
<path d="M868.6 896.3H934.1" stroke="#3153a5" stroke-width="4.0" stroke-linecap="round" stroke-dasharray="7 7"/>
<path d="M902.7 886.8V905.8M896.7 886.8H908.7M896.7 905.8H908.7" stroke="#3153a5" stroke-width="4.2" stroke-linecap="round"/>
<text x="943.7" y="904.8" font-size="23.5">10</text>
</svg></body></html>
